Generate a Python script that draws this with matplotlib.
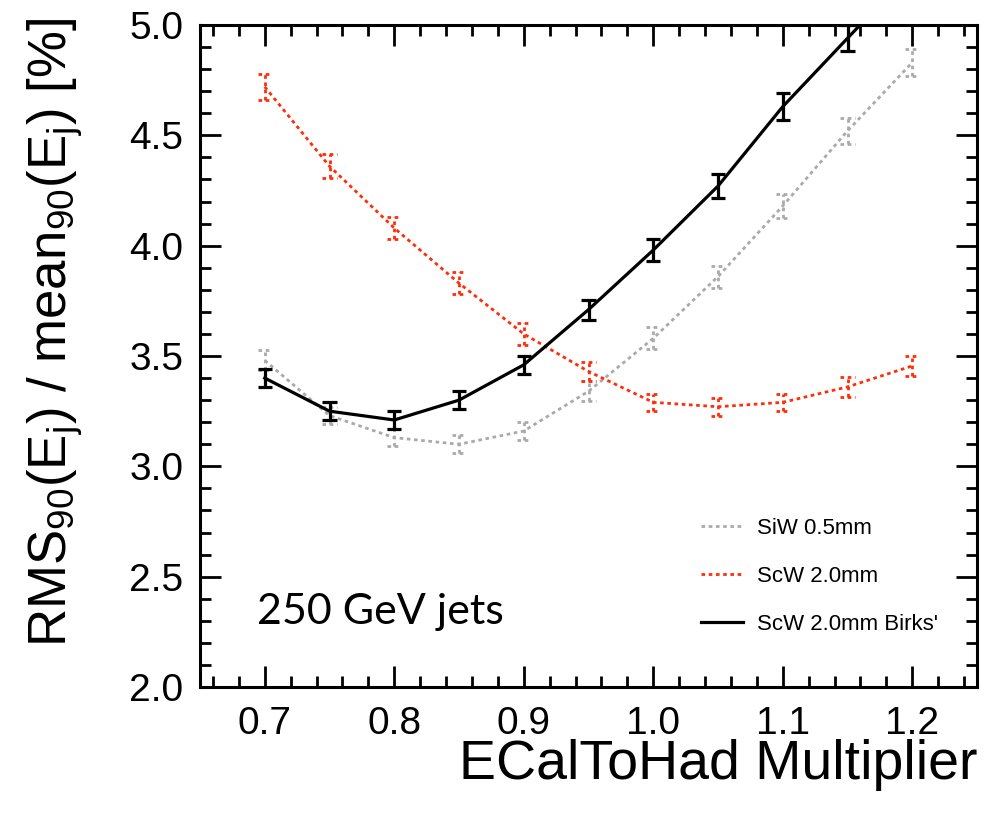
import matplotlib
matplotlib.use("Agg")
import matplotlib.pyplot as plt
from matplotlib.ticker import MultipleLocator
import numpy as np

plt.rcParams['font.family'] = ['Liberation Sans', 'DejaVu Sans']
plt.rcParams['mathtext.fontset'] = 'custom'
plt.rcParams['mathtext.rm'] = 'Liberation Sans'
plt.rcParams['mathtext.it'] = 'Liberation Sans:italic'
plt.rcParams['mathtext.sf'] = 'Liberation Sans'

# ---- data ----
multiplier = [0.70, 0.75, 0.80, 0.85, 0.90, 0.95, 1.00, 1.05, 1.10, 1.15, 1.20]

siw_05 = [3.48, 3.23, 3.13, 3.10, 3.16, 3.34, 3.58, 3.86, 4.18, 4.52, 4.83]
siw_05_err = [0.045, 0.040, 0.040, 0.040, 0.040, 0.045, 0.050, 0.050, 0.055, 0.060, 0.060]

scw_20 = [4.72, 4.36, 4.08, 3.83, 3.60, 3.43, 3.29, 3.27, 3.29, 3.36, 3.455]
scw_20_err = [0.060, 0.055, 0.050, 0.050, 0.050, 0.045, 0.040, 0.040, 0.040, 0.045, 0.045]

scw_20_birks = [3.40, 3.25, 3.21, 3.30, 3.46, 3.71, 3.98, 4.27, 4.63, 4.94, 5.25]
scw_20_birks_err = [0.040, 0.040, 0.040, 0.040, 0.040, 0.045, 0.050, 0.055, 0.060, 0.060, 0.065]

labels = ["SiW 0.5mm", "ScW 2.0mm", "ScW 2.0mm Birks'"]
colors = ["#aaaaaa", "#ff2e0a", "#000000"]
styles = [(0, (1.3, 1.3)), (0, (1.3, 1.3)), "-"]
widths = [2.0, 2.0, 2.3]

fig = plt.figure(figsize=(10.05, 8.13), dpi=100)
ax = fig.add_axes([200 / 1005, 1 - 687 / 813, 777 / 1005, 662 / 813])

series = [(siw_05, siw_05_err), (scw_20, scw_20_err), (scw_20_birks, scw_20_birks_err)]
x = np.array(multiplier)
capw = 0.0055
for (vals, errs), lab, col, ls, lw in zip(series, labels, colors, styles, widths):
    v = np.array(vals)
    e = np.array(errs)
    ax.plot(x, v, color=col, ls=ls, lw=lw, label=lab, zorder=3)
    ax.vlines(x, v - e, v + e, colors=col, linestyles=ls, lw=lw, zorder=3)
    ax.hlines(v - e, x - capw, x + capw, colors=col, linestyles=ls, lw=lw, zorder=3)
    ax.hlines(v + e, x - capw, x + capw, colors=col, linestyles=ls, lw=lw, zorder=3)

ax.set_xlim(0.65, 1.25)
ax.set_ylim(2.0, 5.0)
ax.xaxis.set_major_locator(MultipleLocator(0.1))
ax.xaxis.set_minor_locator(MultipleLocator(0.02))
ax.yaxis.set_major_locator(MultipleLocator(0.5))
ax.yaxis.set_minor_locator(MultipleLocator(0.1))
ax.tick_params(which='both', direction='in', top=True, right=True, width=2.0)
ax.tick_params(which='major', length=15, labelsize=28, pad=14)
ax.tick_params(which='minor', length=8)
ax.tick_params(axis='y', which='major', pad=12)
for s in ax.spines.values():
    s.set_linewidth(2.2)

ax.set_xlabel("ECalToHad Multiplier", fontsize=40)
ax.xaxis.set_label_coords(1.0, -0.118)
ax.xaxis.label.set_ha('right')
ax.xaxis.label.set_va('center')

ax.set_ylabel(r"RMS$_{90}$(E$_{\mathrm{j}}$) / mean$_{90}$(E$_{\mathrm{j}}$) [%]", fontsize=38)
ax.yaxis.set_label_coords(-0.186, 0.535)
ax.yaxis.label.set_va('center')

ax.text(0.073, 0.113, "250 GeV jets", transform=ax.transAxes, fontsize=31,
        family=['Lato', 'DejaVu Sans'], ha='left', va='center')

leg = ax.legend(loc='upper left', bbox_to_anchor=(0.645, 0.255), frameon=False,
                fontsize=16, handlelength=1.9, handletextpad=0.6, labelspacing=1.2,
                borderaxespad=0, borderpad=0)

fig.savefig("out.png", dpi=100)
